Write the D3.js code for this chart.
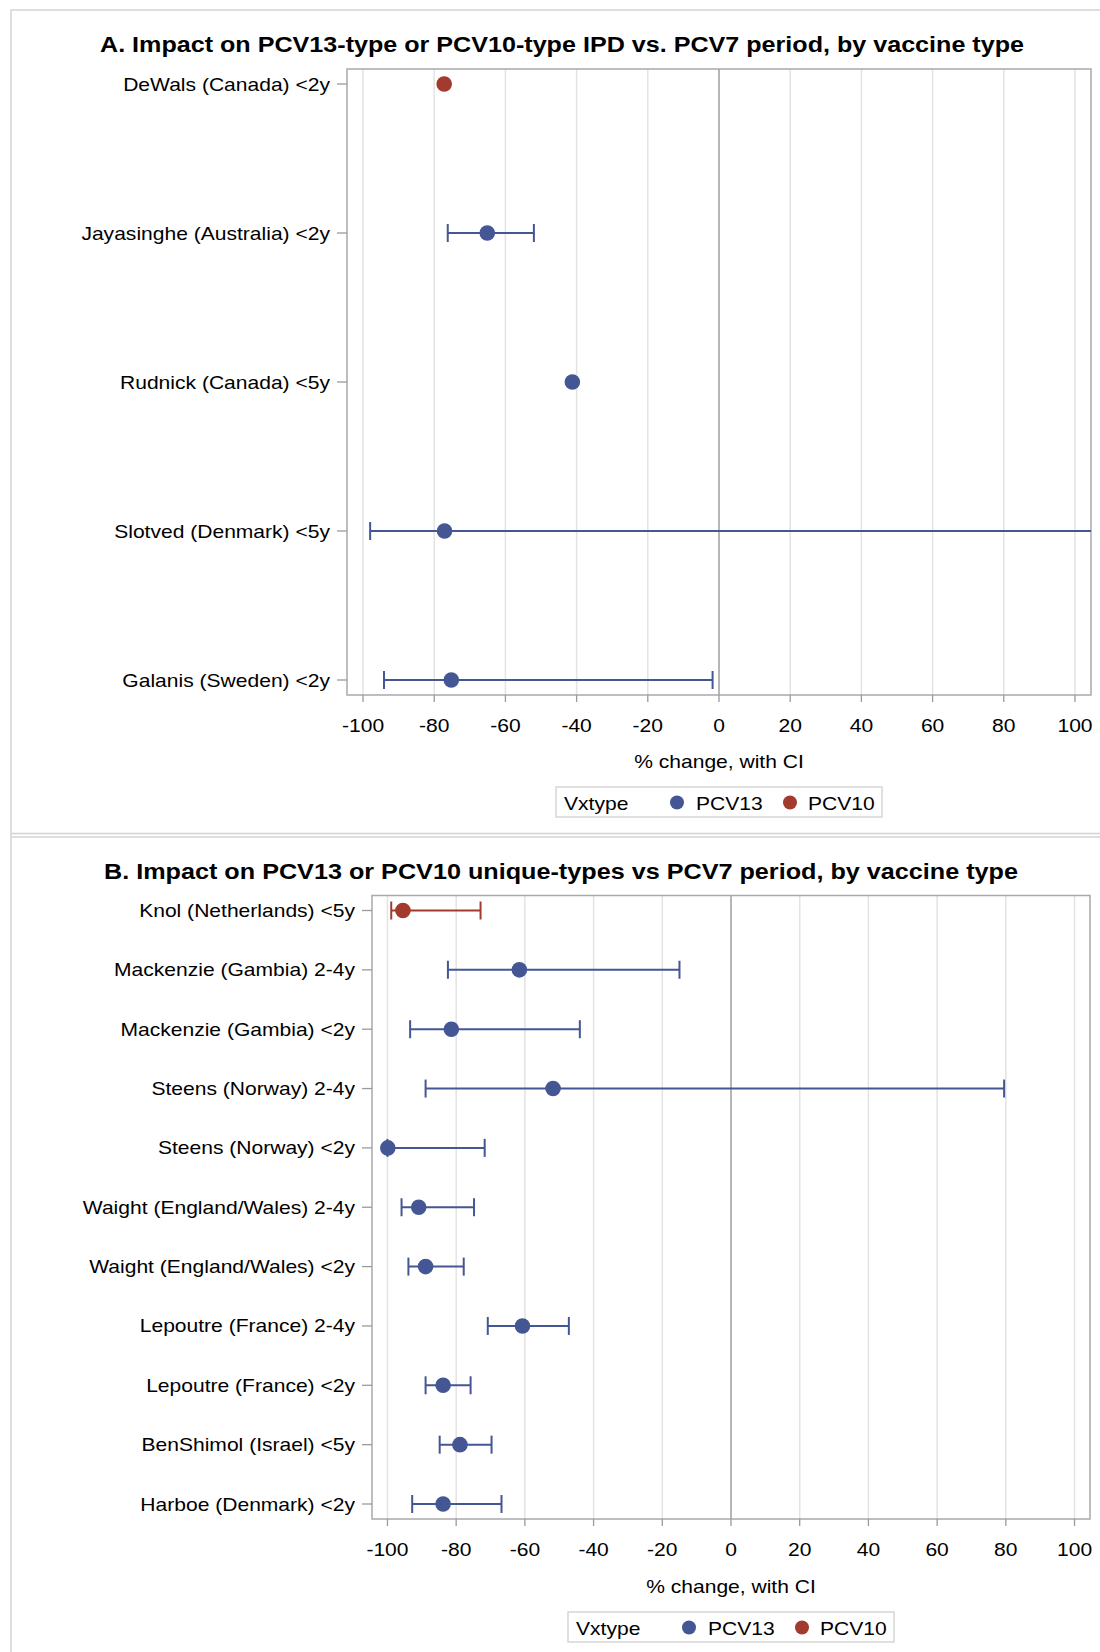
<!DOCTYPE html>
<html>
<head>
<meta charset="utf-8">
<script src="https://cdn.jsdelivr.net/npm/d3@7"></script>
<style>
  html, body { margin: 0; padding: 0; background: #fff; }
  svg text { font-family: "Liberation Sans", Arial, sans-serif; fill: #000; }
</style>
</head>
<body>
<svg id="chart" width="1100" height="1652"></svg>
<script>
// ---------------- DATA ----------------
const titleA = "A. Impact on PCV13-type or PCV10-type IPD vs. PCV7 period, by vaccine type";
const studiesA = ["DeWals (Canada) <2y", "Jayasinghe (Australia) <2y", "Rudnick (Canada) <5y", "Slotved (Denmark) <5y", "Galanis (Sweden) <2y"];
const vxtypeA = ["PCV10", "PCV13", "PCV13", "PCV13", "PCV13"];
const estimateA = [-77.2, -65.1, -41.2, -77.1, -75.2];
const lowerA = [null, -76.2, null, -98.0, -94.1];
const upperA = [null, -52.0, null, 150, -1.8];

const titleB = "B. Impact on PCV13 or PCV10 unique-types vs PCV7 period, by vaccine type";
const studiesB = ["Knol (Netherlands) <5y", "Mackenzie (Gambia) 2-4y", "Mackenzie (Gambia) <2y", "Steens (Norway) 2-4y", "Steens (Norway) <2y", "Waight (England/Wales) 2-4y", "Waight (England/Wales) <2y", "Lepoutre (France) 2-4y", "Lepoutre (France) <2y", "BenShimol (Israel) <5y", "Harboe (Denmark) <2y"];
const vxtypeB = ["PCV10", "PCV13", "PCV13", "PCV13", "PCV13", "PCV13", "PCV13", "PCV13", "PCV13", "PCV13", "PCV13"];
const estimateB = [-95.5, -61.6, -81.4, -51.8, -99.9, -90.9, -88.9, -60.7, -83.8, -78.9, -83.8];
const lowerB = [-98.9, -82.4, -93.4, -88.9, -100, -95.9, -93.9, -70.8, -88.9, -84.8, -92.8];
const upperB = [-72.9, -15.0, -44.0, 79.5, -71.7, -74.8, -77.8, -47.2, -75.8, -69.7, -66.8];

const xTicks = [-100, -80, -60, -40, -20, 0, 20, 40, 60, 80, 100];
const xDomain = [-104.5, 104.5];
const legendTitle = "Vxtype";
const legendTypes = ["PCV13", "PCV10"];
const axisTitle = "% change, with CI";

// ---------------- STYLE ----------------
const colors = { PCV13: "#445694", PCV10: "#A23A2E" };
const SX = 1.17; // horizontal stretch of text to match reference

const svg = d3.select("#chart");

// panel borders
svg.append("path").attr("d", "M11,1700 L11,10 L1110,10").attr("fill", "none").attr("stroke", "#d3d3d3").attr("stroke-width", 1.5);
svg.append("line").attr("x1", 11).attr("x2", 1110).attr("y1", 833.5).attr("y2", 833.5).attr("stroke", "#d3d3d3").attr("stroke-width", 1.5);
svg.append("line").attr("x1", 11).attr("x2", 1110).attr("y1", 837).attr("y2", 837).attr("stroke", "#d3d3d3").attr("stroke-width", 1.5);

function sText(g, x, y, str, anchor, size, weight) {
  const t = g.append("g").attr("transform", `translate(${x},${y}) scale(${SX},1)`)
    .append("text").attr("x", 0).attr("y", 0)
    .attr("text-anchor", anchor).attr("font-size", size)
    .attr("font-weight", weight || "normal").text(str);
  return t;
}

function panel(cfg) {
  const g = svg.append("g");
  const { left, right, top, bottom } = cfg;
  const x = d3.scaleLinear().domain(xDomain).range([left, right]);
  const y = d3.scalePoint().domain(cfg.studies).range([top + 15, bottom - 15]);
  const clipId = "clip" + cfg.id;
  svg.append("clipPath").attr("id", clipId).append("rect")
    .attr("x", left).attr("y", top).attr("width", right - left).attr("height", bottom - top);

  // title
  g.append("text").attr("x", cfg.titleX).attr("y", cfg.titleY)
    .attr("text-anchor", "middle").attr("font-size", 22).attr("font-weight", "bold")
    .attr("textLength", cfg.titleW).attr("lengthAdjust", "spacingAndGlyphs")
    .text(cfg.title);

  // grid lines
  g.append("g").selectAll("line").data(xTicks.filter(d => d !== 0)).join("line")
    .attr("x1", d => x(d)).attr("x2", d => x(d)).attr("y1", top).attr("y2", bottom)
    .attr("stroke", "#e3e3e3").attr("stroke-width", 1.5);
  // zero reference line
  g.append("line").attr("x1", x(0)).attr("x2", x(0)).attr("y1", top).attr("y2", bottom)
    .attr("stroke", "#8f8f8f").attr("stroke-width", 1.3);

  // frame
  g.append("rect").attr("x", left).attr("y", top).attr("width", right - left).attr("height", bottom - top)
    .attr("fill", "none").attr("stroke", "#a9a9a9").attr("stroke-width", 1.5);

  // y-axis ticks & labels
  const yAx = g.append("g");
  yAx.selectAll("line").data(cfg.studies).join("line")
    .attr("x1", left - 10).attr("x2", left).attr("y1", d => y(d)).attr("y2", d => y(d))
    .attr("stroke", "#9a9a9a").attr("stroke-width", 1.3);
  cfg.studies.forEach(s => sText(yAx, left - 17, y(s) + 6.5, s, "end", 18));

  // x-axis ticks & labels
  const xAx = g.append("g");
  xAx.selectAll("line").data(xTicks).join("line")
    .attr("x1", d => x(d)).attr("x2", d => x(d)).attr("y1", bottom).attr("y2", bottom + 7)
    .attr("stroke", "#9a9a9a").attr("stroke-width", 1.3);
  xTicks.forEach(t => sText(xAx, x(t), bottom + cfg.tickDy, String(t), "middle", 18));
  sText(g, (left + right) / 2, bottom + cfg.axisDy, axisTitle, "middle", 18);

  // data
  const rows = cfg.studies.map((s, i) => ({ s, type: cfg.types[i], est: cfg.est[i], lo: cfg.lo[i], hi: cfg.hi[i] }));
  const marks = g.append("g").attr("clip-path", `url(#${clipId})`);
  const withCI = rows.filter(r => r.lo !== null && r.hi !== null);
  marks.selectAll("line.ci").data(withCI).join("line").attr("class", "ci")
    .attr("x1", r => x(r.lo)).attr("x2", r => x(r.hi)).attr("y1", r => y(r.s)).attr("y2", r => y(r.s))
    .attr("stroke", r => colors[r.type]).attr("stroke-width", 2);
  marks.selectAll("line.capL").data(withCI).join("line").attr("class", "capL")
    .attr("x1", r => x(r.lo)).attr("x2", r => x(r.lo)).attr("y1", r => y(r.s) - 9).attr("y2", r => y(r.s) + 9)
    .attr("stroke", r => colors[r.type]).attr("stroke-width", 2);
  marks.selectAll("line.capH").data(withCI).join("line").attr("class", "capH")
    .attr("x1", r => x(r.hi)).attr("x2", r => x(r.hi)).attr("y1", r => y(r.s) - 9).attr("y2", r => y(r.s) + 9)
    .attr("stroke", r => colors[r.type]).attr("stroke-width", 2);
  marks.selectAll("circle").data(rows).join("circle")
    .attr("cx", r => x(r.est)).attr("cy", r => y(r.s)).attr("r", 7.8)
    .attr("fill", r => colors[r.type]);

  // legend
  const lw = 326, lh = 30;
  const lx = (left + right) / 2 - lw / 2, ly = bottom + cfg.legendDy;
  const lg = g.append("g");
  lg.append("rect").attr("x", lx).attr("y", ly).attr("width", lw).attr("height", lh)
    .attr("fill", "#fff").attr("stroke", "#d0d0d0").attr("stroke-width", 1.3);
  sText(lg, lx + 8, ly + 23, legendTitle, "start", 18);
  const offs = [{ dot: 121, txt: 140 }, { dot: 234, txt: 252 }];
  legendTypes.forEach((t, i) => {
    lg.append("circle").attr("cx", lx + offs[i].dot).attr("cy", ly + 15.5).attr("r", 7).attr("fill", colors[t]);
    sText(lg, lx + offs[i].txt, ly + 23, t, "start", 18);
  });
}

panel({ id: "A", title: titleA, titleX: 562, titleY: 52, titleW: 924,
  left: 347, right: 1091, top: 69, bottom: 695,
  studies: studiesA, types: vxtypeA, est: estimateA, lo: lowerA, hi: upperA,
  tickDy: 37, axisDy: 73, legendDy: 92 });

panel({ id: "B", title: titleB, titleX: 561, titleY: 879, titleW: 914,
  left: 372, right: 1090, top: 895.5, bottom: 1519,
  studies: studiesB, types: vxtypeB, est: estimateB, lo: lowerB, hi: upperB,
  tickDy: 37, axisDy: 74, legendDy: 93 });
</script>
</body>
</html>
